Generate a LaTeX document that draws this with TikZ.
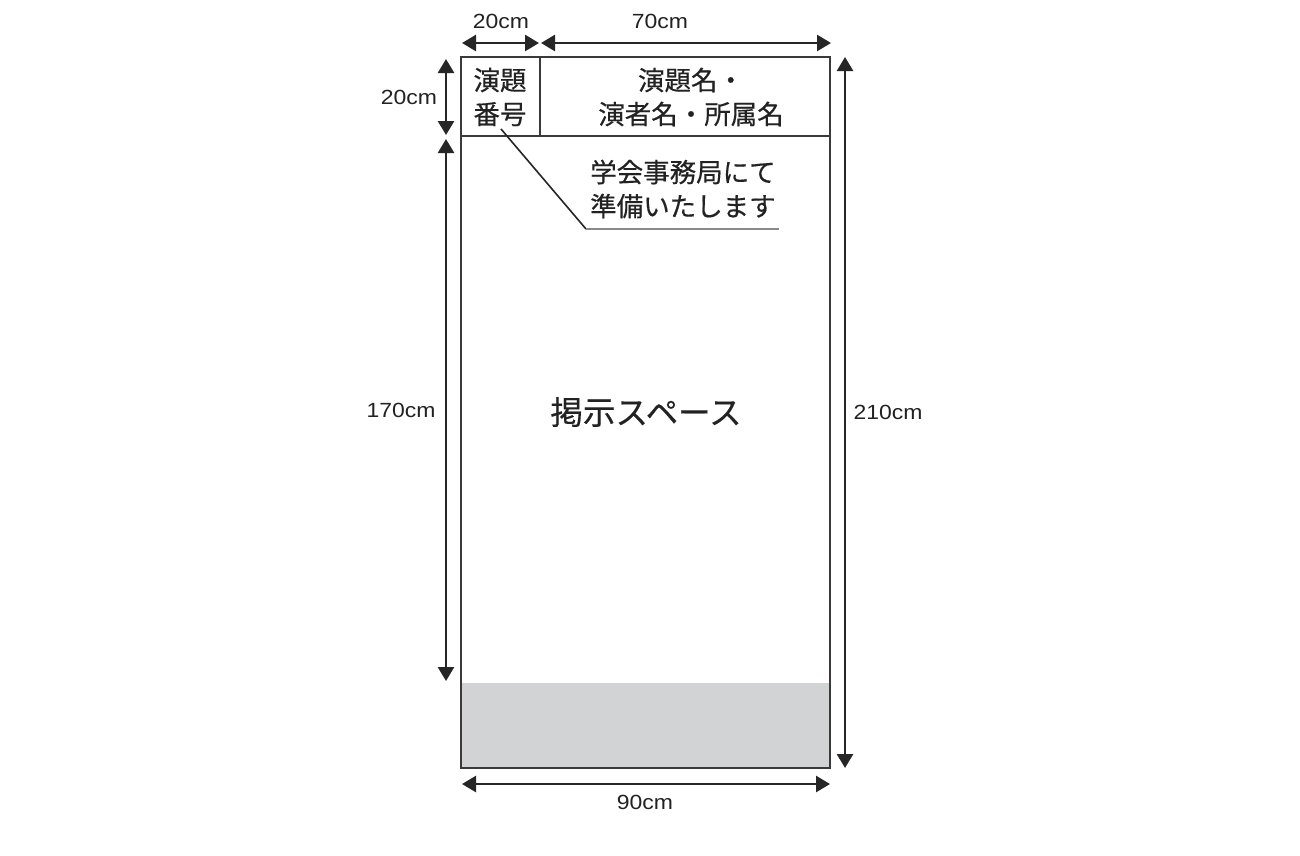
\documentclass[tikz,border=0pt]{standalone}
\usepackage{fontspec}
\setmainfont{Liberation Sans}
\newfontfamily\jpfont[FakeBold=0.4]{Noto Sans CJK JP}
\usetikzlibrary{arrows.meta}
\definecolor{lineC}{HTML}{3A3A3A}
\definecolor{arrowC}{HTML}{262626}
\definecolor{textC}{HTML}{222222}
\definecolor{grayC}{HTML}{D1D3D4}
\definecolor{leadC}{HTML}{8A8A8A}
\newcommand{\dimtxt}[1]{\scalebox{1.12}[1]{#1}}
\begin{document}
\begin{tikzpicture}[x=1pt,y=-1pt,
  frame/.style={draw=lineC,line width=2pt},
  dimarrow/.style={draw=arrowC,line width=2.6pt,{Triangle[length=14pt,width=16pt]}-{Triangle[length=14pt,width=16pt]}},
  dimlabel/.style={text=textC,font=\fontsize{20.5}{22}\selectfont,inner sep=0pt},
  jptext/.style={text=textC,font=\jpfont\fontsize{26.5}{34}\selectfont,inner sep=0pt,align=center},
  bigjp/.style={text=textC,font=\jpfont\fontsize{32.5}{36}\selectfont,inner sep=0pt},
  leader/.style={draw=arrowC,line width=1.6pt},
  leaderbar/.style={draw=leadC,line width=2.4pt}]
\useasboundingbox (0,0) rectangle (1300,855);
\fill[white] (0,0) rectangle (1300,855);
% gray band
\fill[grayC] (461,683) rectangle (830,768);
% frame
\draw[frame] (461,57) rectangle (830,768);
\draw[frame] (461,136) -- (830,136);
\draw[frame] (540,57) -- (540,136);
% header texts
\node[jptext] (num) at (500,97) {演題\\番号};
\node[jptext] (title) at (691,97) {演題名・\\演者名・所属名};
% note
\node[jptext,anchor=west,align=left] (note) at (590,189) {学会事務局にて\\準備いたします};
\coordinate (ls) at (501,129);
\coordinate (lb) at (586,229);
\coordinate (le) at (779,229);
\draw[leader] (ls) -- (lb);
\draw[leaderbar] (lb) -- (le);
% main label
\node[bigjp] (space) at (646,412) {掲示スペース};
% dimension arrows
\coordinate (a1) at (462,43); \coordinate (a2) at (539,43);
\coordinate (b1) at (541,43); \coordinate (b2) at (831,43);
\coordinate (c1) at (446,59); \coordinate (c2) at (446,135);
\coordinate (d1) at (446,139); \coordinate (d2) at (446,681);
\coordinate (e1) at (845,57); \coordinate (e2) at (845,768);
\coordinate (f1) at (462,784); \coordinate (f2) at (830,784);
\draw[dimarrow] (a1) -- (a2);
\draw[dimarrow] (b1) -- (b2);
\draw[dimarrow] (c1) -- (c2);
\draw[dimarrow] (d1) -- (d2);
\draw[dimarrow] (e1) -- (e2);
\draw[dimarrow] (f1) -- (f2);
\node[dimlabel] (l20a) at (501,21) {\dimtxt{20cm}};
\node[dimlabel] (l70) at (660,21) {\dimtxt{70cm}};
\node[dimlabel] (l20b) at (409,97) {\dimtxt{20cm}};
\node[dimlabel] (l170) at (401,410) {\dimtxt{170cm}};
\node[dimlabel] (l210) at (888,412) {\dimtxt{210cm}};
\node[dimlabel] (l90) at (645,802) {\dimtxt{90cm}};
\end{tikzpicture}
\end{document}
